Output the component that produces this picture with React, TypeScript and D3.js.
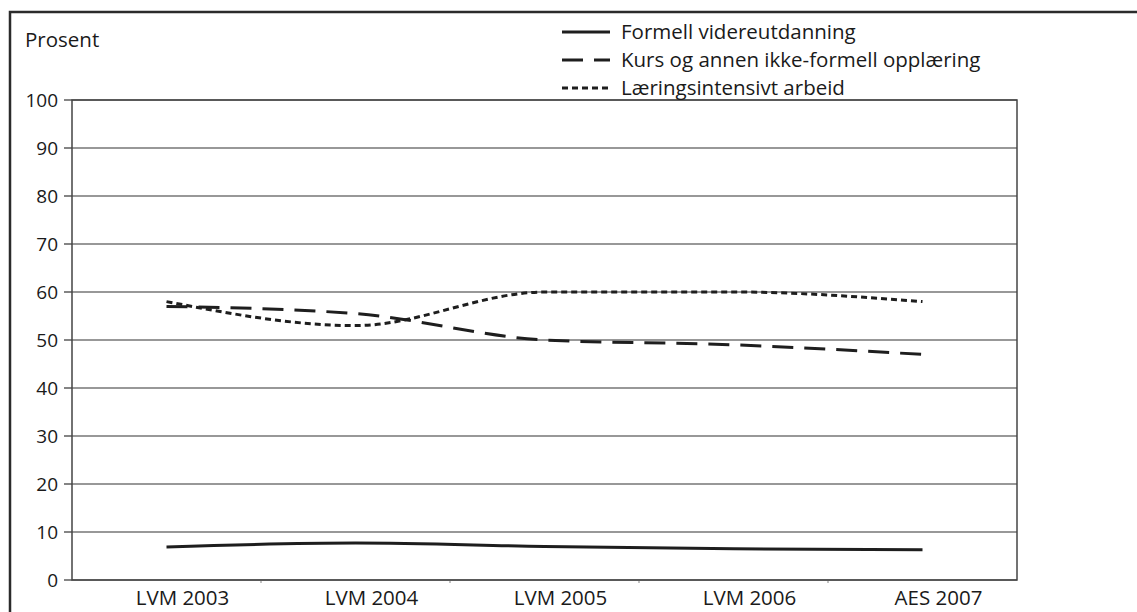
import React from 'react';
import * as d3 from 'd3';

const settings = {
  margin: {top: 100, right: 120, bottom: 32, left: 72},
  width: 1137,
  height: 612
};

const font = "'Open Sans', 'DejaVu Sans', sans-serif";

// survey rounds along the x axis
const surveys = ['LVM 2003', 'LVM 2004', 'LVM 2005', 'LVM 2006', 'AES 2007'];

// percent values
const formell = [6.9, 7.7, 7.0, 6.5, 6.3];
const kurs = [57, 55.5, 50, 49, 47];
const laering = [58, 53, 60, 60, 58];

const yTicks = [0, 10, 20, 30, 40, 50, 60, 70, 80, 90, 100];

const seriesNames = [
  'Formell videreutdanning',
  'Kurs og annen ikke-formell opplæring',
  'Læringsintensivt arbeid'
];
const seriesValues = [formell, kurs, laering];
const seriesDash = [null, '21,11', '6,4'];

const Lines = ({xScale, yScale}) => {
  const line = d3.line()
    .x((d, i) => xScale(surveys[i]) + xScale.bandwidth() / 2)
    .y(d => yScale(d))
    .curve(d3.curveMonotoneX);

  return (
    <g>
      {seriesValues.map((vals, i) =>
        <path key={i} d={line(vals)} fill="none" stroke="#1e1e1e"
              strokeWidth={3} strokeDasharray={seriesDash[i] || undefined} />
      )}
    </g>
  );
};

const Legend = () => (
  <g>
    {seriesNames.map((name, i) => {
      const y = 32 + i * 28;
      return (
        <g key={name}>
          <line x1={562} x2={610} y1={y} y2={y} stroke="#1e1e1e" strokeWidth={3}
                strokeDasharray={seriesDash[i] || undefined} />
          <text x={621} y={y} dy="0.33em" fontSize={20.5} fontFamily={font} fill="#1a1a1a">{name}</text>
        </g>
      );
    })}
  </g>
);

export default function App() {
  const {margin, width, height} = settings;
  const x0 = margin.left, x1 = 1017;
  const y0 = height - margin.bottom, y1 = margin.top;

  const xScale = d3.scaleBand().domain(surveys).range([x0, x1]);
  const yScale = d3.scaleLinear().domain([0, 100]).range([y0, y1]);

  return (
    <svg width={width} height={height}
         style={{position: 'absolute', left: 0, top: 0, background: '#fff'}}>
      {/* outer frame, runs off the right and bottom of the picture */}
      <rect x={10} y={12} width={1200} height={700} fill="none" stroke="#2b2b2b" strokeWidth={2.5} />

      <text x={25} y={40} dy="0.33em" fontSize={20.5} fontFamily={font} fill="#1a1a1a">Prosent</text>

      {yTicks.map(t =>
        <g key={t}>
          <line x1={x0} x2={x1} y1={yScale(t)} y2={yScale(t)} stroke="#333" strokeWidth={1.2} />
          <line x1={x0 - 8} x2={x0} y1={yScale(t)} y2={yScale(t)} stroke="#333" strokeWidth={1.2} />
          <text x={58} y={yScale(t)} dy="0.35em" textAnchor="end" fontSize={19}
                fontFamily={font} fill="#1a1a1a">{t}</text>
        </g>
      )}

      {/* ticks between categories */}
      {surveys.slice(1).map(s =>
        <line key={s} x1={xScale(s)} x2={xScale(s)} y1={y0} y2={y0 + 3} stroke="#999" strokeWidth={1.2} />
      )}

      {surveys.map(s =>
        <text key={s} x={xScale(s) + xScale.bandwidth() / 2 + 16} y={605} textAnchor="middle"
              fontSize={20.5} fontFamily={font} fill="#1a1a1a">{s}</text>
      )}

      <rect x={x0} y={y1} width={x1 - x0} height={y0 - y1} fill="none" stroke="#444" strokeWidth={1.5} />

      <Lines xScale={xScale} yScale={yScale} />
      <Legend />
    </svg>
  );
}
